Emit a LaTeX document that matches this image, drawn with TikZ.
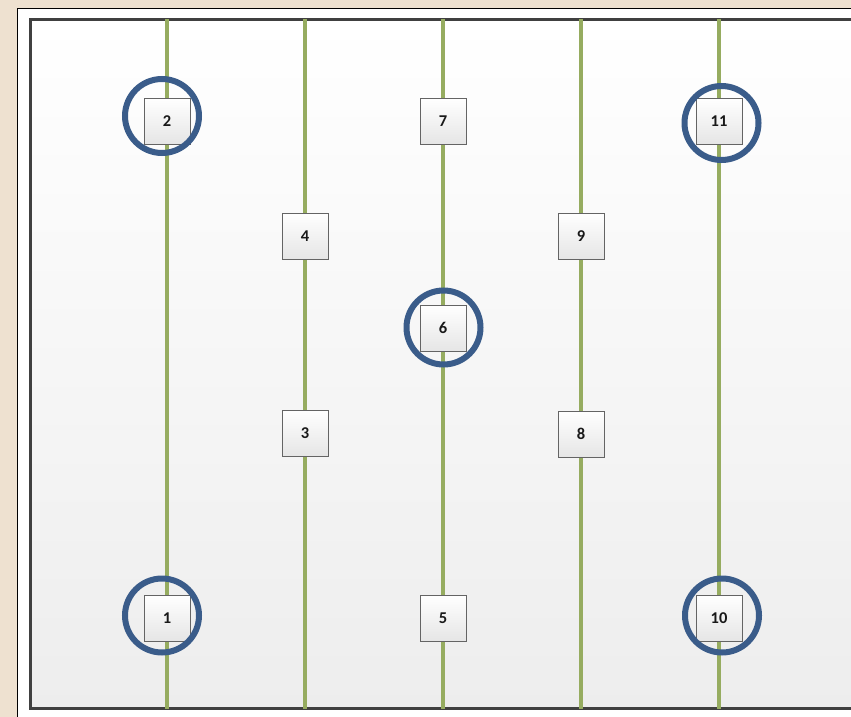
\documentclass[tikz,border=0pt]{standalone}
\usepackage{fontspec}
\setmainfont{Carlito}
\definecolor{parch}{RGB}{238,225,208}
\definecolor{rail}{RGB}{150,172,96}
\definecolor{ringblue}{RGB}{58,92,138}
\definecolor{framegray}{RGB}{64,64,64}
\definecolor{boxgray}{RGB}{100,100,100}
\begin{document}
\begin{tikzpicture}[x=1pt,y=-1pt,
		post/.style={rectangle,draw=boxgray,line width=0.8pt,top color=white,bottom color=black!10,minimum width=46pt,minimum height=46pt,inner sep=0pt,font=\bfseries\fontsize{16.5}{16.5}\selectfont,text=black!90},
		ring/.style={circle,draw=ringblue,line width=6pt,minimum size=74pt,inner sep=0pt},
		track/.style={draw=rail,line width=4.5pt}]
		
		\useasboundingbox (0,0) rectangle (851,717);
		\clip (0,0) rectangle (851,717);
		\fill[parch] (0,0) rectangle (851,717);
		\draw[fill=white,line width=0.8pt] (17,8) rectangle (900,760);
		\draw[framegray,line width=3pt,top color=white,bottom color=black!7] (30,20) rectangle (900,708);
		
		\coordinate (t1) at (167,19);
		\coordinate (u1) at (167,709);
		\coordinate (t2) at (305,19);
		\coordinate (u2) at (305,709);
		\coordinate (t3) at (443,19);
		\coordinate (u3) at (443,709);
		\coordinate (t4) at (581,19);
		\coordinate (u4) at (581,709);
		\coordinate (t5) at (719,19);
		\coordinate (u5) at (719,709);
		\draw[track]  (t1) -- (u1);
		\draw[track]  (t2) -- (u2);
		\draw[track]  (t3) -- (u3);
		\draw[track]  (t4) -- (u4);
		\draw[track]  (t5) -- (u5);
		
		\node[post] (p2) at (167,121) {2};
		\node[post] (p7) at (443,121) {7};
		\node[post] (p11) at (719,121) {11};
		\node[post] (p4) at (305,236) {4};
		\node[post] (p9) at (581,236) {9};
		\node[post] (p6) at (443,328) {6};
		\node[post] (p3) at (305,433) {3};
		\node[post] (p8) at (581,434) {8};
		\node[post] (p1) at (167,618) {1};
		\node[post] (p5) at (443,618) {5};
		\node[post] (p10) at (719,618) {10};
		
		\node[ring] (r2) at (162,116) {};
		\node[ring] (r11) at (721.5,123) {};
		\node[ring] (r6) at (443.5,327.5) {};
		\node[ring] (r1) at (162,615.5) {};
		\node[ring] (r10) at (722,615.5) {};
		\end{tikzpicture}
\end{document}
